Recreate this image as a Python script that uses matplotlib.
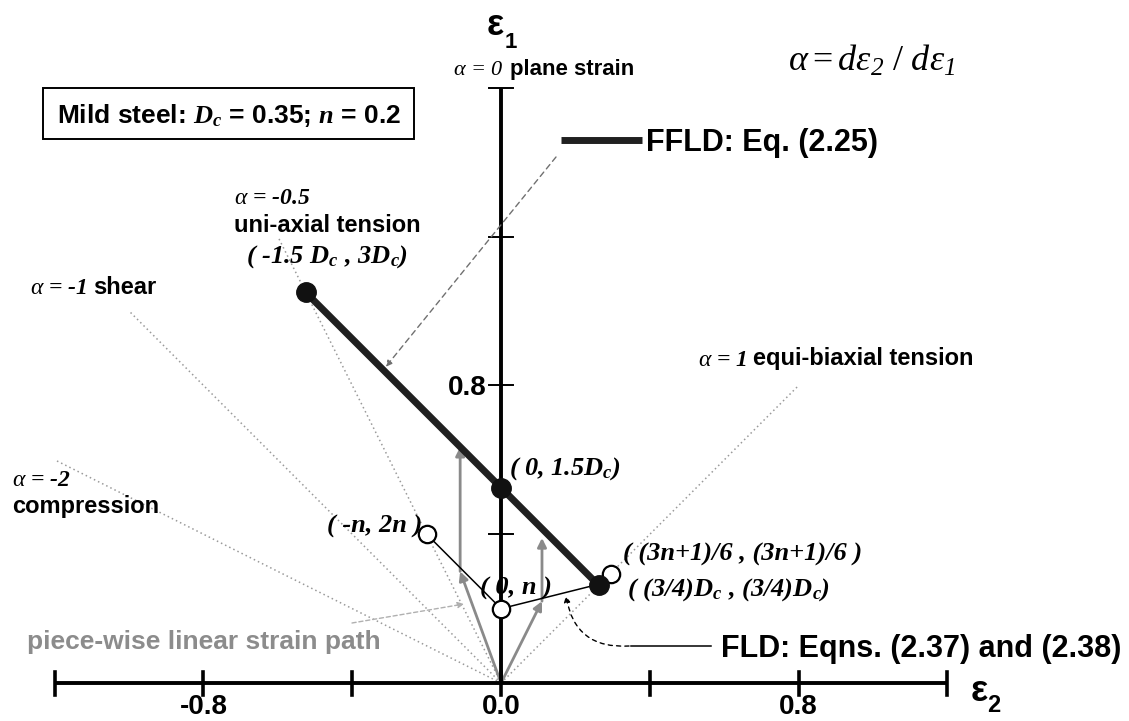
import matplotlib
matplotlib.use("Agg")
import matplotlib.pyplot as plt
from matplotlib.patches import Rectangle
from matplotlib.transforms import offset_copy

plt.rcParams["mathtext.fontset"] = "custom"
plt.rcParams["mathtext.rm"] = "Liberation Serif"
plt.rcParams["mathtext.it"] = "Liberation Serif:italic"
plt.rcParams["mathtext.bf"] = "Liberation Serif:bold"
plt.rcParams["mathtext.bfit"] = "Liberation Serif:italic:bold"
# italic digits for the subscripts of the alpha definition
plt.rcParams["mathtext.sf"] = "Liberation Serif:italic"

# === Material ===
Dc = 0.35
n = 0.2

# === FFLD corners (eps2, eps1) ===
ffld_e2 = [-1.5 * Dc, 0.0, 0.75 * Dc]
ffld_e1 = [3.0 * Dc, 1.5 * Dc, 0.75 * Dc]

# === FLD points ===
fld_e2 = [-n, 0.0, (3 * n + 1) / 6]
fld_e1 = [2 * n, n, (3 * n + 1) / 6]

# === Proportional loading lines: alpha and the eps1 where each line stops ===
ref_alpha = [-2.0, -1.0, -0.5, 1.0]
ref_e1_end = [0.6, 1.0, 1.2, 0.8]

# === Piece-wise linear strain paths ===
path_left_e2 = [0.0, -0.11, -0.11]
path_left_e1 = [0.0, 0.30, 0.635]
path_right_e2 = [0.0, 0.11, 0.11]
path_right_e1 = [0.0, 0.22, 0.39]

# === Axis ticks ===
x_ticks = [-1.2, -0.8, -0.4, 0.0, 0.4, 0.8, 1.2]
x_tick_labels = {-0.8: "-0.8", 0.0: "0.0", 0.8: "0.8"}
y_ticks = [0.4, 0.8, 1.2, 1.6]
y_tick_labels = {0.8: "0.8"}

SANS = dict(family="Liberation Sans", weight="bold")
SERIF_BI = dict(family="Liberation Serif", style="italic", weight="bold")
SERIF_I = dict(family="Liberation Serif", style="italic")

W, H = 1129, 721
fig = plt.figure(figsize=(W / 100, H / 100), dpi=100)
ax = fig.add_axes([0, 0, 1, 1])
ax.set_xlim(-1.347, 1.688)
ax.set_ylim(-0.102, 1.836)
ax.axis("off")
renderer = fig.canvas.get_renderer()


def at(px, py):
    # pixel position measured from the top-left corner -> data coordinates
    return ax.transData.inverted().transform((px, H - py))


def label(px, py, s, size, ha="left", **kw):
    # py is the middle of the capitals, the text sits on its baseline
    x, y = at(px, py + 0.36 * size * 100 / 72)
    return ax.text(x, y, s, fontsize=size, ha=ha, va="baseline", **kw)


def label_row(px, py, parts, size):
    for s, kw in parts:
        t = label(px, py, s, size, **kw)
        px += t.get_window_extent(renderer).width + 0.27 * size * 100 / 72


# === Axes ===
ax.plot([x_ticks[0], x_ticks[-1]], [0, 0], color="black", lw=2.8, zorder=3,
        solid_capstyle="butt")
ax.plot([0, 0], [0, y_ticks[-1]], color="black", lw=2.8, zorder=3,
        solid_capstyle="butt")
for t in x_ticks:
    ax.plot([t, t], [-0.033, 0.03], color="black", lw=2.6, zorder=3)
for t in y_ticks:
    ax.plot([-0.033, 0.033], [t, t], color="black", lw=1.4, zorder=3)

for t, s in x_tick_labels.items():
    px = ax.transData.transform((t, 0))[0]
    label(px, 704, s, 20, ha="center", **SANS)
for t, s in y_tick_labels.items():
    py = H - ax.transData.transform((0, t))[1]
    label(487, py, s, 20, ha="right", **SANS)

label(495, 22, "ε", 26, ha="center", **SANS)
label(511, 40, "1", 16, ha="center", **SANS)
label(979, 688, "ε", 26, ha="center", **SANS)
label(994, 704, "2", 17, ha="center", **SANS)

# === Proportional loading lines ===
for a, e1 in zip(ref_alpha, ref_e1_end):
    ax.plot([0, a * e1], [0, e1], color="#9a9a9a", lw=1.1,
            ls=(0, (1, 2)), zorder=1)

# === Piece-wise linear strain paths ===
for xs, ys in [(path_left_e2, path_left_e1), (path_right_e2, path_right_e1)]:
    for i in range(len(xs) - 1):
        ax.annotate("", xy=(xs[i + 1], ys[i + 1]), xytext=(xs[i], ys[i]),
                    arrowprops=dict(arrowstyle="-|>", color="#8a8a8a", lw=2.0,
                                    mutation_scale=13, shrinkA=0, shrinkB=0),
                    zorder=2)

# === FLD (thin) and FFLD (thick) ===
ax.plot(fld_e2, fld_e1, color="black", lw=1.1, zorder=4)
ax.plot(ffld_e2, ffld_e1, color="#202020", lw=5.0, zorder=5,
        solid_capstyle="round")
ax.plot(ffld_e2, ffld_e1, "o", color="#111111", ms=14, zorder=6)
ax.plot(fld_e2[:2], fld_e1[:2], "o", mfc="white", mec="black", mew=1.6,
        ms=12.5, zorder=6)
# the equi-biaxial FLD point nearly coincides with the FFLD one; nudge the marker
nudge = offset_copy(ax.transData, fig=fig, x=8, y=7, units="points")
ax.plot(fld_e2[2:], fld_e1[2:], "o", mfc="white", mec="black", mew=1.6,
        ms=12.5, zorder=5.5, transform=nudge)

# === Legend entries ===
ax.plot(*zip(at(561, 140), at(642, 140)), color="#202020", lw=5.0,
        solid_capstyle="butt")
label(646, 140, "FFLD: Eq. (2.25)", 22, **SANS)
ax.plot(*zip(at(631, 646), at(711, 646)), color="black", lw=1.1)
label(721, 646, "FLD: Eqns. (2.37) and (2.38)", 22, **SANS)

# pointers from the legend entries to the curves
tip_e2 = -0.31
ax.annotate("", xy=(tip_e2, 1.5 * Dc - tip_e2 + 0.015), xytext=at(556, 157),
            arrowprops=dict(arrowstyle="-|>", color="#707070", lw=1.0,
                            ls=(0, (4, 3)), mutation_scale=9,
                            shrinkA=0, shrinkB=0))
ax.annotate("", xy=at(566, 596), xytext=at(629, 646),
            arrowprops=dict(arrowstyle="-|>", color="black", lw=1.0,
                            ls=(0, (3, 3)), mutation_scale=9,
                            shrinkA=0, shrinkB=0,
                            connectionstyle="arc3,rad=-0.45"))
ax.annotate("", xy=at(464, 604), xytext=at(352, 623),
            arrowprops=dict(arrowstyle="-|>", color="#b0b0b0", lw=1.0,
                            ls=(0, (3, 2)), mutation_scale=9,
                            shrinkA=0, shrinkB=0))

# === Annotations ===
ax.add_patch(Rectangle(at(43, 139), 371 / 372, 51 / 372, fill=False,
                       ec="black", lw=1.4, zorder=3))
label(229, 113, r"Mild steel: $\mathbfit{D}_{\mathbfit{c}}$ = 0.35; $\mathbfit{n}$ = 0.2",
      19, ha="center", **SANS)

label(788, 58, r"$\alpha = d\varepsilon_{\mathsf{2}}\ /\ d\varepsilon_{\mathsf{1}}$", 26)

label_row(453, 67, [(r"$\alpha$ = 0", SERIF_I), ("plane strain", SANS)], 16)
label(234, 195, r"$\alpha$ = -0.5", 17, **SERIF_BI)
label(234, 223, "uni-axial tension", 17, **SANS)
label_row(30, 285, [(r"$\alpha$ = -1", SERIF_BI), ("shear", SANS)], 17)
label(12, 478, r"$\alpha$ = -2", 17, **SERIF_BI)
label(12, 505, "compression", 17, **SANS)
label_row(698, 357, [(r"$\alpha$ = 1", SERIF_BI), ("equi-biaxial tension", SANS)], 17)
label(27, 640, "piece-wise linear strain path", 19, color="#8c8c8c", **SANS)

sub_c = r"$_{\mathbfit{c}}$"
label(246, 253, "( -1.5 D" + sub_c + " , 3D" + sub_c + ")", 19, **SERIF_BI)
label(509, 465, "( 0, 1.5D" + sub_c + ")", 19, **SERIF_BI)
label(422, 523, "( -n, 2n )", 19, ha="right", **SERIF_BI)
label(480, 585, "( 0, n )", 19, **SERIF_BI)
label(623, 551, "( (3n+1)/6 , (3n+1)/6 )", 19, **SERIF_BI)
label(627, 586, "( (3/4)D" + sub_c + " , (3/4)D" + sub_c + ")", 19, **SERIF_BI)

fig.savefig("out.png", dpi=100)
